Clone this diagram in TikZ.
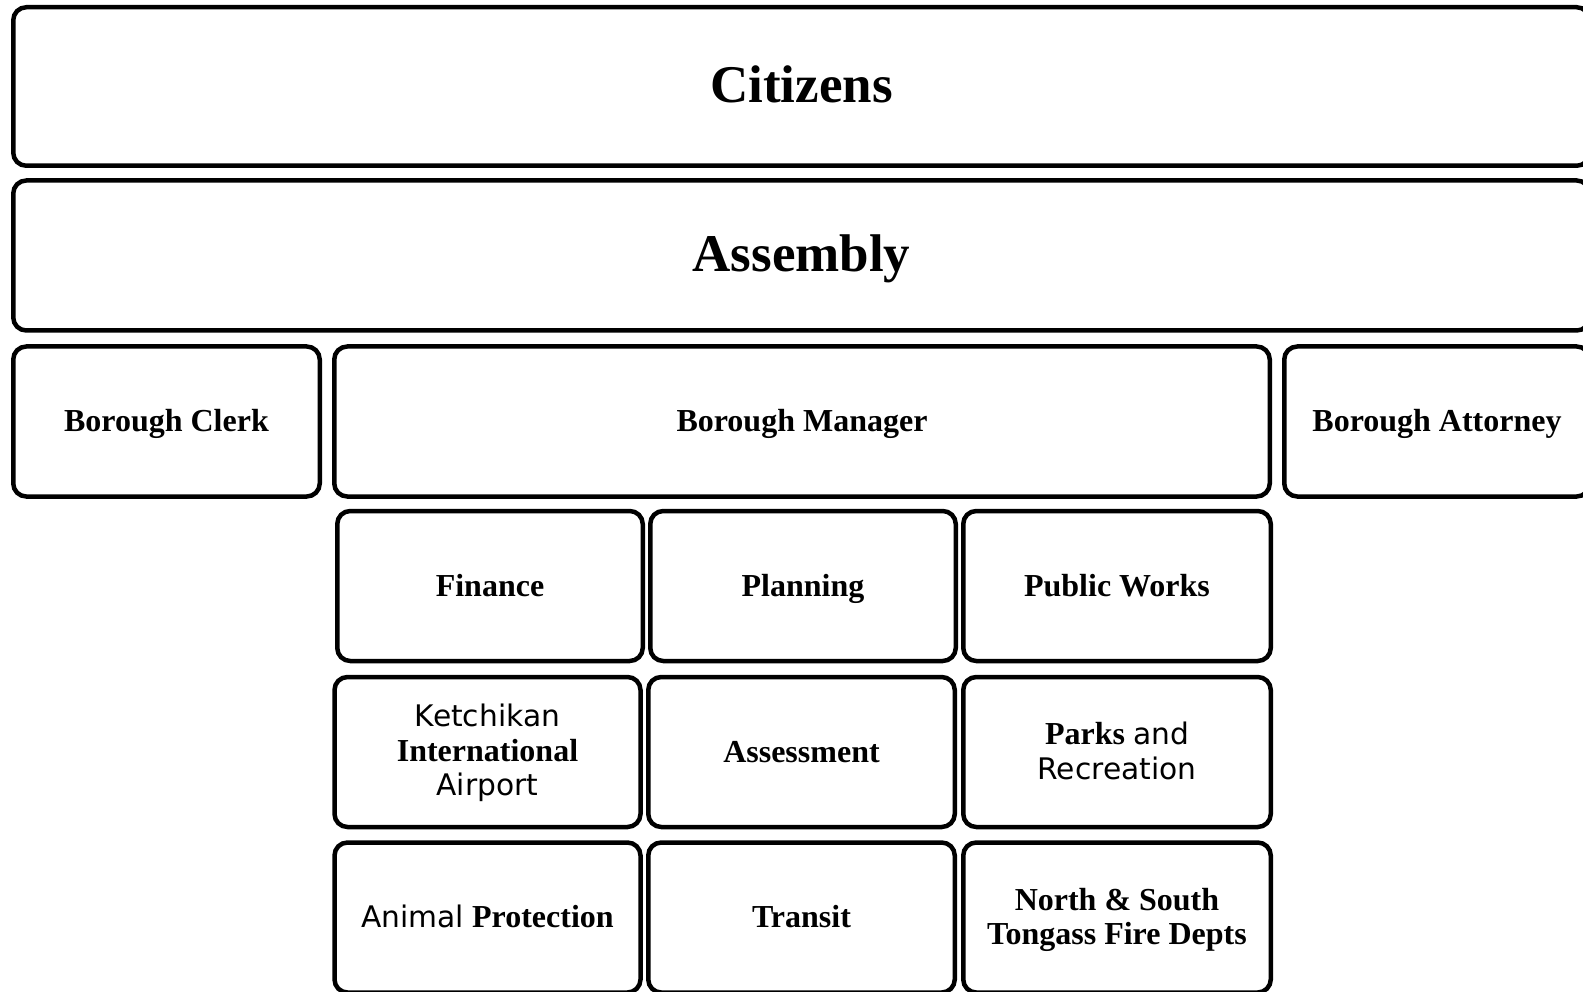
\documentclass[tikz,border=0pt]{standalone}
\usepackage{fontspec}
\setmainfont{Liberation Serif}
\newfontfamily\sansf{DejaVu Sans}
\newcommand{\sn}[1]{{\sansf\mdseries\fontsize{29.7}{34.5}\selectfont #1}}
\begin{document}
\begin{tikzpicture}[x=1pt,y=-1pt,
  box/.style={draw=black, line width=4.5pt, rounded corners=13pt, fill=white,
    inner sep=0pt, align=center, text=black,
    font=\bfseries\fontsize{32}{34.5}\selectfont},
  bigbox/.style={box, font=\bfseries\fontsize{53}{60}\selectfont,
    text height=32.5pt, text depth=1pt},
  % fixed text boxes put the last baseline a set distance below the centre
  oneline/.style={text height=21pt, text depth=1pt},
  twoline/.style={text height=55pt, text depth=1pt},
  threeline/.style={text height=88pt, text depth=1pt},
  wide/.style={minimum width=1576.5pt},
  colA/.style={minimum width=306pt},
  rowh/.style={minimum height=150pt}]
  \useasboundingbox (0,0) rectangle (1583,992);
  \fill[white] (0,0) rectangle (1583,992);

  % top bands
  \node[bigbox, wide, minimum height=158.5pt] (citizens) at (801.5,86.5) {Citizens};
  \node[bigbox, wide, rowh] (assembly) at (801.5,255.5) {Assembly};

  % officers reporting to the assembly
  \node[box, oneline, rowh, minimum width=306.5pt] (clerk) at (166.5,421.5) {Borough Clerk};
  \node[box, oneline, rowh, minimum width=935.5pt] (manager) at (802,421.5) {Borough Manager};
  \node[box, oneline, rowh, minimum width=305.5pt] (attorney) at (1437,421.5) {Borough Attorney};

  % departments
  \node[box, oneline, rowh, minimum width=305.5pt] (finance) at (490,586) {Finance};
  \node[box, oneline, rowh, minimum width=305.5pt] (planning) at (803,586) {Planning};
  \node[box, oneline, rowh, minimum width=307.5pt] (publicworks) at (1117,586) {Public Works};

  \node[box, threeline, rowh, colA] (airport) at (487.5,752)
    {\sn{Ketchikan}\\International\\\sn{Airport}};
  \node[box, oneline, rowh, minimum width=306.5pt] (assessment) at (801.5,752) {Assessment};
  \node[box, twoline, rowh, minimum width=307.5pt] (parks) at (1117,752)
    {Parks \sn{and}\\\sn{Recreation}};

  \node[box, oneline, rowh, colA] (animal) at (487.5,917.5) {\sn{Animal} Protection};
  \node[box, oneline, rowh, minimum width=306.5pt] (transit) at (801.5,917.5) {Transit};
  \node[box, twoline, rowh, minimum width=307.5pt] (fire) at (1117,917.5)
    {North \& South\\Tongass Fire Depts};
\end{tikzpicture}
\end{document}
